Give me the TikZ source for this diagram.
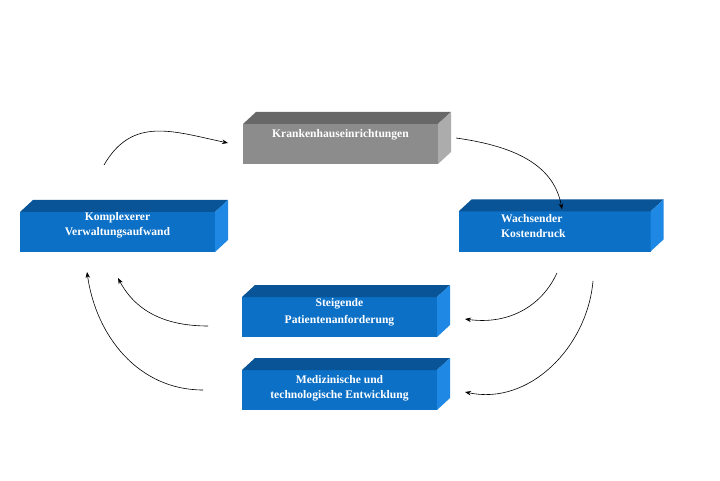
\documentclass[tikz,border=0pt]{standalone}
\usepackage{fontspec}
\setmainfont{Liberation Serif}
\usetikzlibrary{arrows.meta,calc}
\definecolor{blockfront}{RGB}{11,112,198}
\definecolor{blocktop}{RGB}{9,84,150}
\definecolor{blockside}{RGB}{30,136,228}
\definecolor{greyfront}{RGB}{140,140,140}
\definecolor{greytop}{RGB}{104,104,104}
\definecolor{greyside}{RGB}{172,172,172}
\begin{document}
\begin{tikzpicture}[x=1pt,y=1pt,
    front/.style={minimum width=195pt,minimum height=40pt,inner sep=0pt,outer sep=0pt,fill=blockfront},
    boxtext/.style={text=white,font=\fontsize{11.6}{15}\selectfont\bfseries,align=center,inner sep=0pt},
    flow/.style={-{Stealth[length=6pt,width=4.5pt]},line width=0.6pt,black}]
    \useasboundingbox (0,0) rectangle (720,480);
    \fill[white] (0,0) rectangle (720,480);
    % front faces
    \node [front,fill=greyfront] (kh) at (340.5,336) {};
    \node [front] (kv) at (117.5,248) {};
    \node [front,minimum width=192pt] (wk) at (554.5,248.5) {};
    \node [front] (sp) at (339.5,163) {};
    \node [front] (mt) at (339.5,90) {};
    % top and side faces
    \foreach \n in {kv,wk,sp,mt} {
        \fill [blocktop] (\n.north west) -- ++(13,12) -- ([shift={(13,12)}]\n.north east) -- (\n.north east) -- cycle;
        \fill [blockside] (\n.north east) -- ++(13,12) -- ([shift={(13,12)}]\n.south east) -- (\n.south east) -- cycle;
    }
    \fill [greytop] (kh.north west) -- ++(13,12) -- ([shift={(13,12)}]kh.north east) -- (kh.north east) -- cycle;
    \fill [greyside] (kh.north east) -- ++(13,12) -- ([shift={(13,12)}]kh.south east) -- (kh.south east) -- cycle;
    % texts
    \node [boxtext] (kh-t) at (340.5,345) {Krankenhauseinrichtungen};
    \node [boxtext] (kv-t) at (117.5,254.5) {Komplexerer\\Verwaltungsaufwand};
    \node [boxtext,align=left,anchor=west] (wk-t) at (501,254) {Wachsender\\Kostendruck};
    \node [boxtext,font=\fontsize{11.6}{17}\selectfont\bfseries] (sp-t) at (339.5,168) {Steigende\\Patientenanforderung};
    \node [boxtext] (mt-t) at (339.5,91.5) {Medizinische und\\technologische Entwicklung};
    % arrows
    \draw [flow] ($(kv.north)+(-13.5,47)$) to[out=60,in=168,looseness=1.15] ($(kh.west)+(-15,1)$);
    \draw [flow] ($(kh.east)+(18,6)$) to[out=-8,in=100] ($(wk.north)+(7.5,2)$);
    \draw [flow] ($(wk.south)+(2.5,-21.5)$) to[out=-115,in=-8] ($(sp.east)+(28,-2)$);
    \draw [flow] ($(wk.south)+(38.5,-29.5)$) to[out=-95,in=-12] ($(mt.east)+(28,-2)$);
    \draw [flow] ($(sp.west)+(-34,-9)$) to[out=180,in=-62] ($(kv.south)+(0.5,-26)$);
    \draw [flow] ($(mt.west)+(-39,0)$) to[out=180,in=-82] ($(kv.south)+(-30.5,-20)$);
\end{tikzpicture}
\end{document}
